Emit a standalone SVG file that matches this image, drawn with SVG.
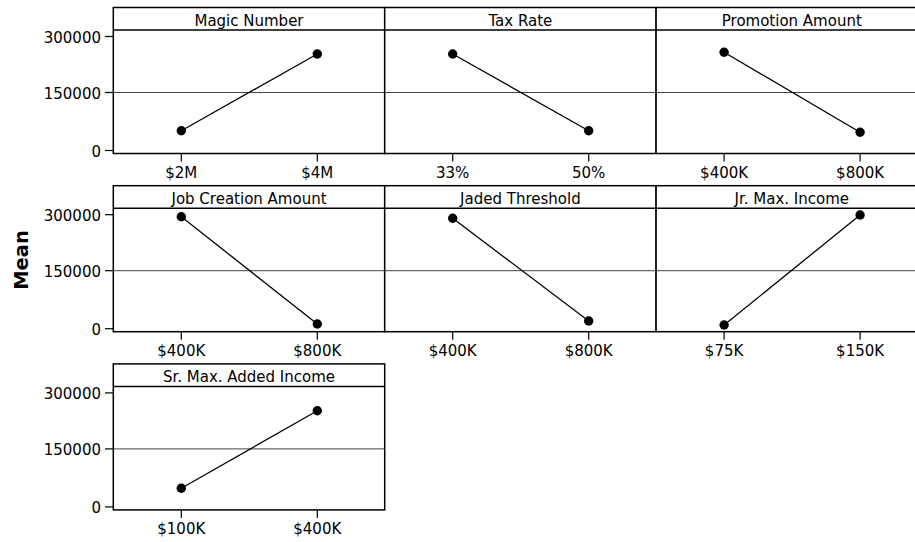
<svg xmlns="http://www.w3.org/2000/svg" width="915" height="542" viewBox="0 0 915 542">
  <style>
    text { font-family: "DejaVu Sans", Verdana, sans-serif; font-size: 15px; fill: #000; }
    .frame { fill: #fff; stroke: #000; stroke-width: 1.5; }
    .hdr { stroke: #000; stroke-width: 1.5; }
    .grid { stroke: #444; stroke-width: 1; }
    .tick { stroke: #000; stroke-width: 1.2; }
    .data { stroke: #000; stroke-width: 1.3; fill: none; }
    .pt { fill: #000; }
    .title { text-anchor: middle; }
    .xl { text-anchor: middle; }
    .yl { text-anchor: end; }
    .axt { font-weight: bold; font-size: 19.5px; text-anchor: middle; }
  </style>
  <defs>
    <g id="panelBase">
      <rect class="frame" x="0" y="7.5" width="271.4" height="146"/>
      <line class="hdr" x1="0" y1="30" x2="271.4" y2="30"/>
      <line class="grid" x1="0" y1="92.5" x2="271.4" y2="92.5"/>
      <line class="tick" x1="68" y1="153.5" x2="68" y2="161.5"/>
      <line class="tick" x1="204" y1="153.5" x2="204" y2="161.5"/>
    </g>
    <g id="yAxis">
      <line class="tick" x1="105" y1="36.5" x2="113.3" y2="36.5"/>
      <line class="tick" x1="105" y1="92.5" x2="113.3" y2="92.5"/>
      <line class="tick" x1="105" y1="150.5" x2="113.3" y2="150.5"/>
      <text class="yl" x="101" y="42.5">300000</text>
      <text class="yl" x="101" y="98.5">150000</text>
      <text class="yl" x="101" y="156.5">0</text>
    </g>
  </defs>

  <text class="axt" transform="translate(27.5,260) rotate(-90)">Mean</text>

  <g id="yaxes">
    <use href="#yAxis"/>
    <use href="#yAxis" transform="translate(0,178.2)"/>
    <use href="#yAxis" transform="translate(0,356.4)"/>
  </g>

  <g id="panel-magic-number" transform="translate(113.3,0)">
    <use href="#panelBase"/>
    <text class="title" x="135.7" y="25.5">Magic Number</text>
    <text class="xl" x="68" y="178">$2M</text>
    <text class="xl" x="204" y="178">$4M</text>
  </g>
  <g id="panel-tax-rate" transform="translate(384.7,0)">
    <use href="#panelBase"/>
    <text class="title" x="135.7" y="25.5">Tax Rate</text>
    <text class="xl" x="68" y="178">33%</text>
    <text class="xl" x="204" y="178">50%</text>
  </g>
  <g id="panel-promotion-amount" transform="translate(656.1,0)">
    <use href="#panelBase"/>
    <text class="title" x="135.7" y="25.5">Promotion Amount</text>
    <text class="xl" x="68" y="178">$400K</text>
    <text class="xl" x="204" y="178">$800K</text>
  </g>
  <g id="panel-job-creation-amount" transform="translate(113.3,178.2)">
    <use href="#panelBase"/>
    <text class="title" x="135.7" y="25.5">Job Creation Amount</text>
    <text class="xl" x="68" y="178">$400K</text>
    <text class="xl" x="204" y="178">$800K</text>
  </g>
  <g id="panel-jaded-threshold" transform="translate(384.7,178.2)">
    <use href="#panelBase"/>
    <text class="title" x="135.7" y="25.5">Jaded Threshold</text>
    <text class="xl" x="68" y="178">$400K</text>
    <text class="xl" x="204" y="178">$800K</text>
  </g>
  <g id="panel-jr-max-income" transform="translate(656.1,178.2)">
    <use href="#panelBase"/>
    <text class="title" x="135.7" y="25.5">Jr. Max. Income</text>
    <text class="xl" x="68" y="178">$75K</text>
    <text class="xl" x="204" y="178">$150K</text>
  </g>
  <g id="panel-sr-max-added-income" transform="translate(113.3,356.4)">
    <use href="#panelBase"/>
    <text class="title" x="135.7" y="25.5">Sr. Max. Added Income</text>
    <text class="xl" x="68" y="178">$100K</text>
    <text class="xl" x="204" y="178">$400K</text>
  </g>

  <g id="connectors">
    <line class="data" x1="181.3" y1="130.7" x2="317.3" y2="54"/>
    <line class="data" x1="452.7" y1="54" x2="588.7" y2="130.7"/>
    <line class="data" x1="724.1" y1="52.3" x2="860.1" y2="132.3"/>
    <line class="data" x1="181.3" y1="216.7" x2="317.3" y2="324"/>
    <line class="data" x1="452.7" y1="218.3" x2="588.7" y2="321"/>
    <line class="data" x1="724.1" y1="325" x2="860.1" y2="215"/>
    <line class="data" x1="181.3" y1="488.3" x2="317.3" y2="410.7"/>
  </g>

  <g id="points">
    <circle class="pt" cx="181.3" cy="130.7" r="4.7"/>
    <circle class="pt" cx="317.3" cy="54" r="4.7"/>
    <circle class="pt" cx="452.7" cy="54" r="4.7"/>
    <circle class="pt" cx="588.7" cy="130.7" r="4.7"/>
    <circle class="pt" cx="724.1" cy="52.3" r="4.7"/>
    <circle class="pt" cx="860.1" cy="132.3" r="4.7"/>
    <circle class="pt" cx="181.3" cy="216.7" r="4.7"/>
    <circle class="pt" cx="317.3" cy="324" r="4.7"/>
    <circle class="pt" cx="452.7" cy="218.3" r="4.7"/>
    <circle class="pt" cx="588.7" cy="321" r="4.7"/>
    <circle class="pt" cx="724.1" cy="325" r="4.7"/>
    <circle class="pt" cx="860.1" cy="215" r="4.7"/>
    <circle class="pt" cx="181.3" cy="488.3" r="4.7"/>
    <circle class="pt" cx="317.3" cy="410.7" r="4.7"/>
  </g>
</svg>
